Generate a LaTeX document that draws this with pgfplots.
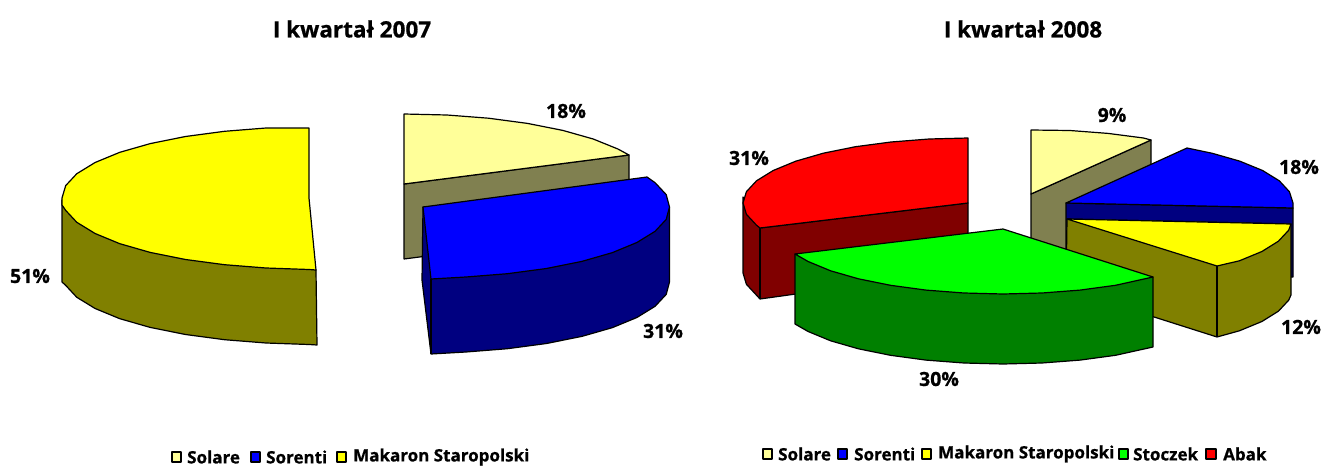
\documentclass[border=0pt]{standalone}
\usepackage{fontspec}
\setmainfont{Open Sans}[BoldFeatures={FakeBold=0.8}]
\usepackage{pgfplots}
\pgfplotsset{compat=1.18}
\definecolor{lem}{HTML}{FFFF99}
\definecolor{lemd}{HTML}{808050}
\definecolor{blu}{HTML}{0000FF}
\definecolor{blud}{HTML}{000080}
\definecolor{yel}{HTML}{FFFF00}
\definecolor{yeld}{HTML}{808000}
\definecolor{gre}{HTML}{00FF00}
\definecolor{gred}{HTML}{008000}
\definecolor{rd}{HTML}{FF0000}
\definecolor{rdd}{HTML}{800000}
\tikzset{lab/.style={font=\fontsize{19.5}{21}\selectfont\bfseries,inner sep=0pt,text=black},
 ttl/.style={font=\fontsize{22.5}{24}\selectfont\bfseries,inner sep=0pt,text=black},
 leg/.style={font=\fontsize{17}{19}\selectfont\bfseries,inner sep=0pt,anchor=west,text=black}}
\pgfplotsset{pg/.style={draw=black,line width=1.2pt,line join=round,mark=none}}
\begin{document}
\begin{tikzpicture}
\begin{axis}[at={(0,0)},anchor=south west,scale only axis,width=1323pt,height=466pt,
 xmin=0,xmax=1323,ymin=0,ymax=466,y dir=reverse,hide axis,clip=false]
\addplot[fill=white,draw=none] coordinates {(0,0)(1323,0)(1323,466)(0,466)} --cycle;
% --- 2007 ---
% Solare
\addplot[pg,fill=lemd] coordinates {(404,184)(629,155)(629,230)(404,259)} --cycle;
\addplot[pg,fill=lem] coordinates {(404,114)(446.9,115)(488.5,118.2)(527.5,123.4)(562.8,130.4)(593.2,139)(617.9,149)(629,155)(404,184)} --cycle;
% Sorenti
\addplot[pg,fill=blud] coordinates {(423,207)(422,280)(431,354)(465.9,352)(507.5,348.7)(546.5,343.5)(581.8,336.4)(612.2,327.7)(636.9,317.5)(655.1,306.3)(666.2,294.4)(669.5,282)(669.5,207)} --cycle;
\addplot[pg] coordinates {(431,279)(431,354)};
\addplot[pg,fill=blu] coordinates {(423,207)(647,177)(655.1,182.7)(666.2,194.6)(669.5,207)(666.2,219.4)(655.1,231.3)(636.9,242.5)(612.2,252.7)(581.8,261.4)(546.5,268.5)(507.5,273.7)(465.9,277)(431,279)} --cycle;
% Makaron
\addplot[pg,fill=yeld] coordinates {(316,270)(62,200)(62,282)(65.7,285.4)(76.8,297.3)(95.1,308.5)(119.8,318.7)(150.2,327.4)(185.5,334.5)(224.5,339.7)(266,343)(309,344.5)(317,345)} --cycle;
\addplot[pg,fill=yel] coordinates {(309,128)(266,128)(224.5,131.3)(185.5,136.5)(150.2,143.6)(119.8,152.3)(95.1,162.5)(76.8,173.7)(65.7,185.6)(62,198)(62,205)(65.7,210.4)(76.8,222.3)(95.1,233.5)(119.8,243.7)(150.2,252.4)(185.5,259.5)(224.5,264.7)(266,268)(309,269.5)(316,270)(309,198)} --cycle;
% --- 2008 ---
% Abak
\addplot[pg,fill=rdd] coordinates {(743,197)(743,273)(746.4,284.3)(756.5,295.2)(760,299)(968,270)(968,203)(760,228)} --cycle;
\addplot[pg] coordinates {(760,228)(760,299)};
\addplot[pg,fill=rd] coordinates {(968,138)(929,139)(891,142)(855.5,146.7)(823.3,153.2)(795.7,161.2)(773.2,170.5)(756.5,180.8)(746.4,191.7)(743,203)(746.4,214.3)(756.5,225.2)(760,228)(968,203)} --cycle;
% Solare
\addplot[pg,fill=lemd] coordinates {(1031,194)(1151,140)(1151,210)(1031,265)} --cycle;
\addplot[pg,fill=lem] coordinates {(1031,130)(1070,130.5)(1108,133.4)(1143.5,138)(1151,140)(1031,194)} --cycle;
% Sorenti
\addplot[pg,fill=blud] coordinates {(1066,203)(1066,278)(1293,277)(1293,208)} --cycle;
\addplot[pg,fill=blu] coordinates {(1066,203)(1187,148)(1211.9,153.2)(1239.9,161.2)(1262.6,170.5)(1279.3,180.8)(1289.4,191.7)(1293,203)(1293,208)} --cycle;
% Makaron
\addplot[pg,fill=yeld] coordinates {(1067,219)(1066,289)(1217,337)(1239.4,330.8)(1261.9,321.5)(1278.4,311.2)(1288.6,300.3)(1291,295)(1291,224)} --cycle;
\addplot[pg] coordinates {(1217,266)(1217,337)};
\addplot[pg,fill=yel] coordinates {(1067,219)(1291,224)(1288.6,230.3)(1278.4,241.2)(1261.9,251.5)(1239.4,260.8)(1217,266)} --cycle;
% Stoczek
\addplot[pg,fill=gred] coordinates {(795,254)(795,324)(808.1,331.5)(830.6,340.8)(858.4,348.8)(890.5,355.3)(926,360.1)(963.9,363)(1003,364)(1042,363)(1080,360.1)(1115.5,355.3)(1153,347)(1153,277)} --cycle;
\addplot[pg,fill=gre] coordinates {(795,254)(1003,229)(1153,277)(1115.5,285.3)(1080,290.1)(1042,293)(1003,294)(963.9,293)(926,290.1)(890.5,285.3)(858.4,278.8)(830.6,270.8)(808.1,261.5)} --cycle;
% legend squares
\addplot[pg,fill=lem] coordinates {(172,452)(181,452)(181,462)(172,462)} --cycle;
\addplot[pg,fill=blu] coordinates {(251,452)(260,452)(260,462)(251,462)} --cycle;
\addplot[pg,fill=yel] coordinates {(337,452)(346,452)(346,462)(337,462)} --cycle;
\addplot[pg,fill=lem] coordinates {(763,449)(772,449)(772,459)(763,459)} --cycle;
\addplot[pg,fill=blu] coordinates {(838,449)(847,449)(847,459)(838,459)} --cycle;
\addplot[pg,fill=yel] coordinates {(922,449)(931,449)(931,459)(922,459)} --cycle;
\addplot[pg,fill=gre] coordinates {(1119,449)(1128,449)(1128,459)(1119,459)} --cycle;
\addplot[pg,fill=rd] coordinates {(1206,449)(1216,449)(1216,459)(1206,459)} --cycle;
% text
\node[ttl] at (axis cs:352,29) {I kwartał 2007};
\node[ttl] at (axis cs:1023,29) {I kwartał 2008};
\node[lab] at (axis cs:566,111) {18\%};
\node[lab] at (axis cs:663,331) {31\%};
\node[lab] at (axis cs:30,276) {51\%};
\node[lab] at (axis cs:1112,115) {9\%};
\node[lab] at (axis cs:1299,167) {18\%};
\node[lab] at (axis cs:1301,327) {12\%};
\node[lab] at (axis cs:939,379) {30\%};
\node[lab] at (axis cs:749,158) {31\%};
\node[leg] at (axis cs:187,457) {Solare};
\node[leg] at (axis cs:266,457) {Sorenti};
\node[leg] at (axis cs:353,457) {Makaron Staropolski};
\node[leg] at (axis cs:778,454) {Solare};
\node[leg] at (axis cs:854,454) {Sorenti};
\node[leg] at (axis cs:938,454) {Makaron Staropolski};
\node[leg] at (axis cs:1133,454) {Stoczek};
\node[leg] at (axis cs:1223,454) {Abak};
\end{axis}
\end{tikzpicture}
\end{document}
